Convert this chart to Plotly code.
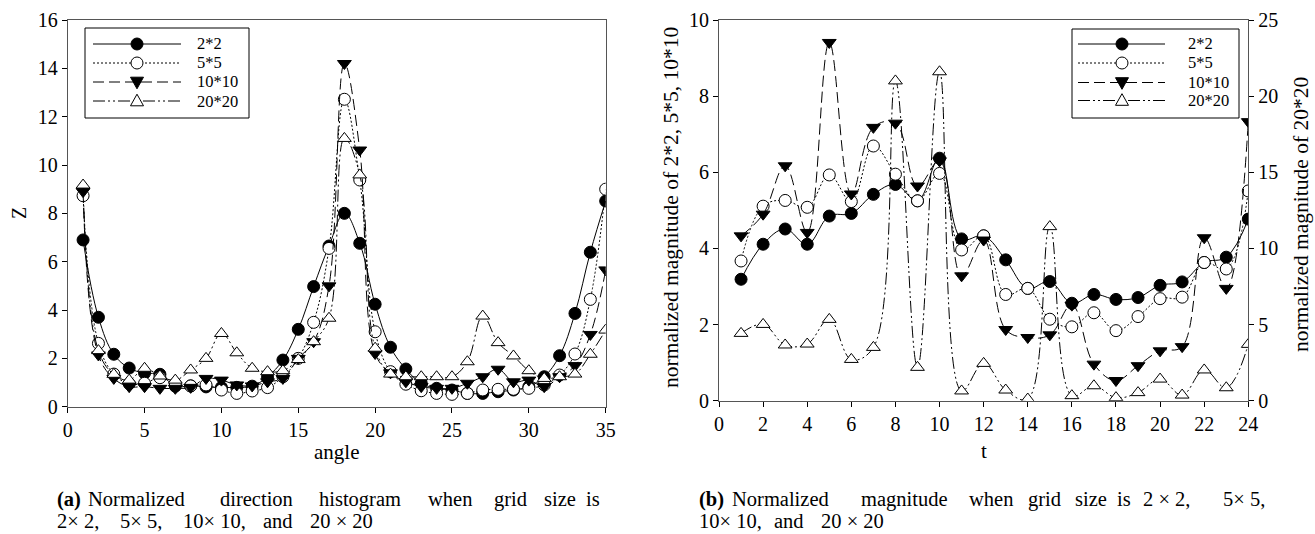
import plotly.graph_objects as go

# ---------------- data ----------------
angle = list(range(1, 36))
z_2x2 = [6.9, 3.7, 2.17, 1.6, 1.39, 1.34, 0.85, 0.86, 0.82, 0.8, 0.8, 0.85, 1.24, 1.93, 3.2, 4.97, 6.65, 8.0,
         6.76, 4.24, 2.46, 1.56, 0.97, 0.76, 0.69, 0.55, 0.55, 0.62, 0.69, 0.83, 1.24, 2.11, 3.86, 6.39, 8.51]
z_5x5 = [8.73, 2.62, 1.35, 0.95, 0.97, 1.2, 0.95, 0.86, 0.9, 0.69, 0.55, 0.65, 0.79, 1.24, 2.0, 3.49, 6.55, 12.72,
         9.38, 3.1, 1.45, 0.93, 0.66, 0.55, 0.51, 0.55, 0.69, 0.72, 0.72, 0.76, 0.9, 1.31, 2.18, 4.44, 9.0]
z_10x10 = [8.9, 2.14, 1.17, 0.83, 0.83, 0.76, 0.76, 0.8, 1.17, 1.1, 0.9, 0.86, 1.03, 1.17, 2.0, 2.69, 5.0, 14.2,
           10.62, 2.2, 1.4, 1.03, 0.83, 0.76, 0.76, 0.97, 1.24, 1.55, 1.03, 1.1, 0.83, 1.24, 1.7, 2.99, 5.66]
z_20x20 = [9.17, 2.32, 1.34, 1.1, 1.59, 1.27, 1.1, 1.52, 2.0, 3.03, 2.23, 1.59, 1.45, 1.49, 1.95, 2.69, 3.66, 11.1,
           9.59, 2.42, 1.35, 1.24, 1.24, 1.24, 1.24, 1.86, 3.75, 2.65, 2.1, 1.49, 1.17, 1.24, 1.35, 2.17, 3.17]

t = list(range(1, 25))
m_2x2 = [3.19, 4.11, 4.51, 4.11, 4.85, 4.92, 5.42, 5.68, 5.25, 6.37, 4.25, 4.33, 3.70, 2.95, 3.13, 2.56, 2.79,
         2.66, 2.71, 3.03, 3.12, 3.63, 3.77, 4.77]
m_5x5 = [3.67, 5.11, 5.26, 5.08, 5.93, 5.23, 6.69, 5.95, 5.25, 5.97, 3.96, 4.33, 2.79, 2.95, 2.14, 1.94, 2.31,
         1.84, 2.21, 2.68, 2.72, 3.63, 3.46, 5.51]
m_10x10 = [4.33, 4.9, 6.17, 4.42, 9.41, 5.43, 7.18, 7.29, 5.64, 6.3, 3.28, 4.22, 1.87, 1.66, 1.73, 2.51, 0.96,
           0.53, 0.92, 1.31, 1.42, 4.28, 2.95, 7.33]
m_20x20 = [4.42, 5.01, 3.66, 3.72, 5.34, 2.71, 3.5, 21.0, 2.19, 21.6, 0.64, 2.45, 0.7, 0.11, 11.43, 0.33, 0.98,
           0.2, 0.53, 1.42, 0.37, 2.02, 0.85, 3.7]

series_names = ["2*2", "5*5", "10*10", "20*20"]

# ---------------- styles ----------------
FONT = "Liberation Serif"
W, H = 1315, 534
styles = {
    "2*2": dict(symbol="circle", fill="black", dash="solid"),
    "5*5": dict(symbol="circle", fill="white", dash="2px,2px"),
    "10*10": dict(symbol="triangle-down", fill="black", dash="11px,5px"),
    "20*20": dict(symbol="triangle-up", fill="white", dash="12px,3px,2px,3px,2px,3px"),
}

fig = go.Figure()


def add(x, y, name, xa, ya):
    s = styles[name]
    fig.add_trace(go.Scatter(
        x=x, y=y, name=name, mode="lines+markers", xaxis=xa, yaxis=ya, showlegend=False,
        line=dict(color="black", width=1, dash=s["dash"], shape="spline", smoothing=1.1),
        marker=dict(symbol=s["symbol"], size=12, color=s["fill"], line=dict(color="black", width=1)),
    ))


for name, vals in zip(series_names, [z_2x2, z_5x5, z_10x10, z_20x20]):
    add(angle, vals, name, "x", "y")
for name, vals in zip(series_names[:3], [m_2x2, m_5x5, m_10x10]):
    add(t, vals, name, "x2", "y2")
add(t, m_20x20, "20*20", "x2", "y3")


def px_x(p):
    return p / W


def px_y(p):
    return 1 - p / H


axis_common = dict(
    showgrid=False, zeroline=False, ticks="outside", ticklen=5, tickwidth=1, tickcolor="black",
    showline=True, linecolor="#555", linewidth=1, automargin=False,
    tickfont=dict(family=FONT, size=20, color="black"),
)

fig.update_layout(
    width=W, height=H, margin=dict(l=0, r=0, t=0, b=0, autoexpand=False),
    paper_bgcolor="white", plot_bgcolor="white",
    font=dict(family=FONT, color="black"),
    showlegend=False,
    xaxis=dict(domain=[px_x(67.7), px_x(605.7)], range=[0, 35], dtick=5, anchor="y", mirror=True, **axis_common),
    yaxis=dict(domain=[px_y(406.7), px_y(20)], range=[0, 16], dtick=2, anchor="x", mirror=True, **axis_common),
    xaxis2=dict(domain=[px_x(719), px_x(1248.3)], range=[0, 24], dtick=2, anchor="y2", mirror=True, **axis_common),
    yaxis2=dict(domain=[px_y(400.7), px_y(20)], range=[0, 10], dtick=2, anchor="x2", **axis_common),
    yaxis3=dict(range=[0, 25], dtick=5, overlaying="y2", side="right", anchor="x2", **axis_common),
)

ann = []
shapes = []


def text(x, y, s, size=20, angle=0, xanchor="center"):
    ann.append(dict(x=px_x(x), y=px_y(y), xref="paper", yref="paper", text=s, showarrow=False,
                    textangle=angle, xanchor=xanchor, yanchor="middle",
                    font=dict(family=FONT, size=size, color="black")))


# ---------------- legends (drawn as layout decoration) ----------------
def legend(box, rows, line_x, mark_x, text_x):
    x0, y0, x1, y1 = box
    shapes.append(dict(type="rect", xref="paper", yref="paper", x0=px_x(x0), x1=px_x(x1),
                       y0=px_y(y1), y1=px_y(y0), line=dict(color="black", width=1), fillcolor="white",
                       layer="above"))
    for name, ry in zip(series_names, rows):
        s = styles[name]
        shapes.append(dict(type="line", xref="paper", yref="paper", x0=px_x(line_x[0]), x1=px_x(line_x[1]),
                           y0=px_y(ry), y1=px_y(ry), line=dict(color="black", width=1, dash=s["dash"]),
                           layer="above"))
        r = 6
        if s["symbol"] == "circle":
            shapes.append(dict(type="circle", xref="paper", yref="paper",
                               x0=px_x(mark_x - r), x1=px_x(mark_x + r), y0=px_y(ry + r), y1=px_y(ry - r),
                               line=dict(color="black", width=1), fillcolor=s["fill"], layer="above"))
        else:
            hw, hh = 6.5, 5.8
            if s["symbol"] == "triangle-down":
                pts = [(mark_x - hw, ry - hh + 1), (mark_x + hw, ry - hh + 1), (mark_x, ry + hh + 1)]
            else:
                pts = [(mark_x - hw, ry + hh - 1), (mark_x + hw, ry + hh - 1), (mark_x, ry - hh - 1)]
            path = "M " + " L ".join(f"{px_x(a):.5f},{px_y(b):.5f}" for a, b in pts) + " Z"
            shapes.append(dict(type="path", xref="paper", yref="paper", path=path,
                               line=dict(color="black", width=1), fillcolor=s["fill"], layer="above"))
        text(text_x, ry, name, size=16.5, xanchor="left")


legend((85, 28, 249, 118), [44, 63, 82, 101], (93, 181), 137, 195)
legend((1072, 29, 1239, 118), [44, 63, 82.5, 100.5], (1078, 1165), 1122, 1186)

# ---------------- axis titles ----------------
text(19, 213, "Z", size=20, angle=-90)
text(336.7, 452, "angle", size=21)
text(671, 208, "normalized magnitude of 2*2, 5*5, 10*10", size=21.5, angle=-90)
text(1301, 215, "normalized magnitude of 20*20", size=21.5, angle=-90)
text(983.7, 451, "t", size=21)

# ---------------- captions (justified layout) ----------------
CY1, CY2 = 499, 521
cap_a1 = [(55, "<b>(a)</b>"), (86, "Normalized"), (218, "direction"), (317, "histogram"), (426, "when"),
          (492, "grid"), (542, "size"), (584, "is")]
cap_a2 = [(55, "2× 2,"), (118, "5× 5,"), (181, "10× 10,"), (261, "and"), (308, "20 × 20")]
cap_b1 = [(697, "<b>(b)</b>"), (730, "Normalized"), (859, "magnitude"), (967, "when"), (1026, "grid"),
          (1073, "size"), (1115, "is"), (1141, "2 × 2,"), (1221, "5× 5,")]
cap_b2 = [(697, "10× 10,"), (772, "and"), (819, "20 × 20")]
for row, cy in ((cap_a1, CY1), (cap_a2, CY2), (cap_b1, CY1), (cap_b2, CY2)):
    for x, w in row:
        text(x, cy, w, size=20.5, xanchor="left")

fig.update_layout(annotations=ann, shapes=shapes)

fig.write_html(
    "out.html",
    config={"displayModeBar": False},
    post_script="document.body.style.margin='0';document.body.style.overflow='hidden';"
                "document.documentElement.style.overflow='hidden';",
)
